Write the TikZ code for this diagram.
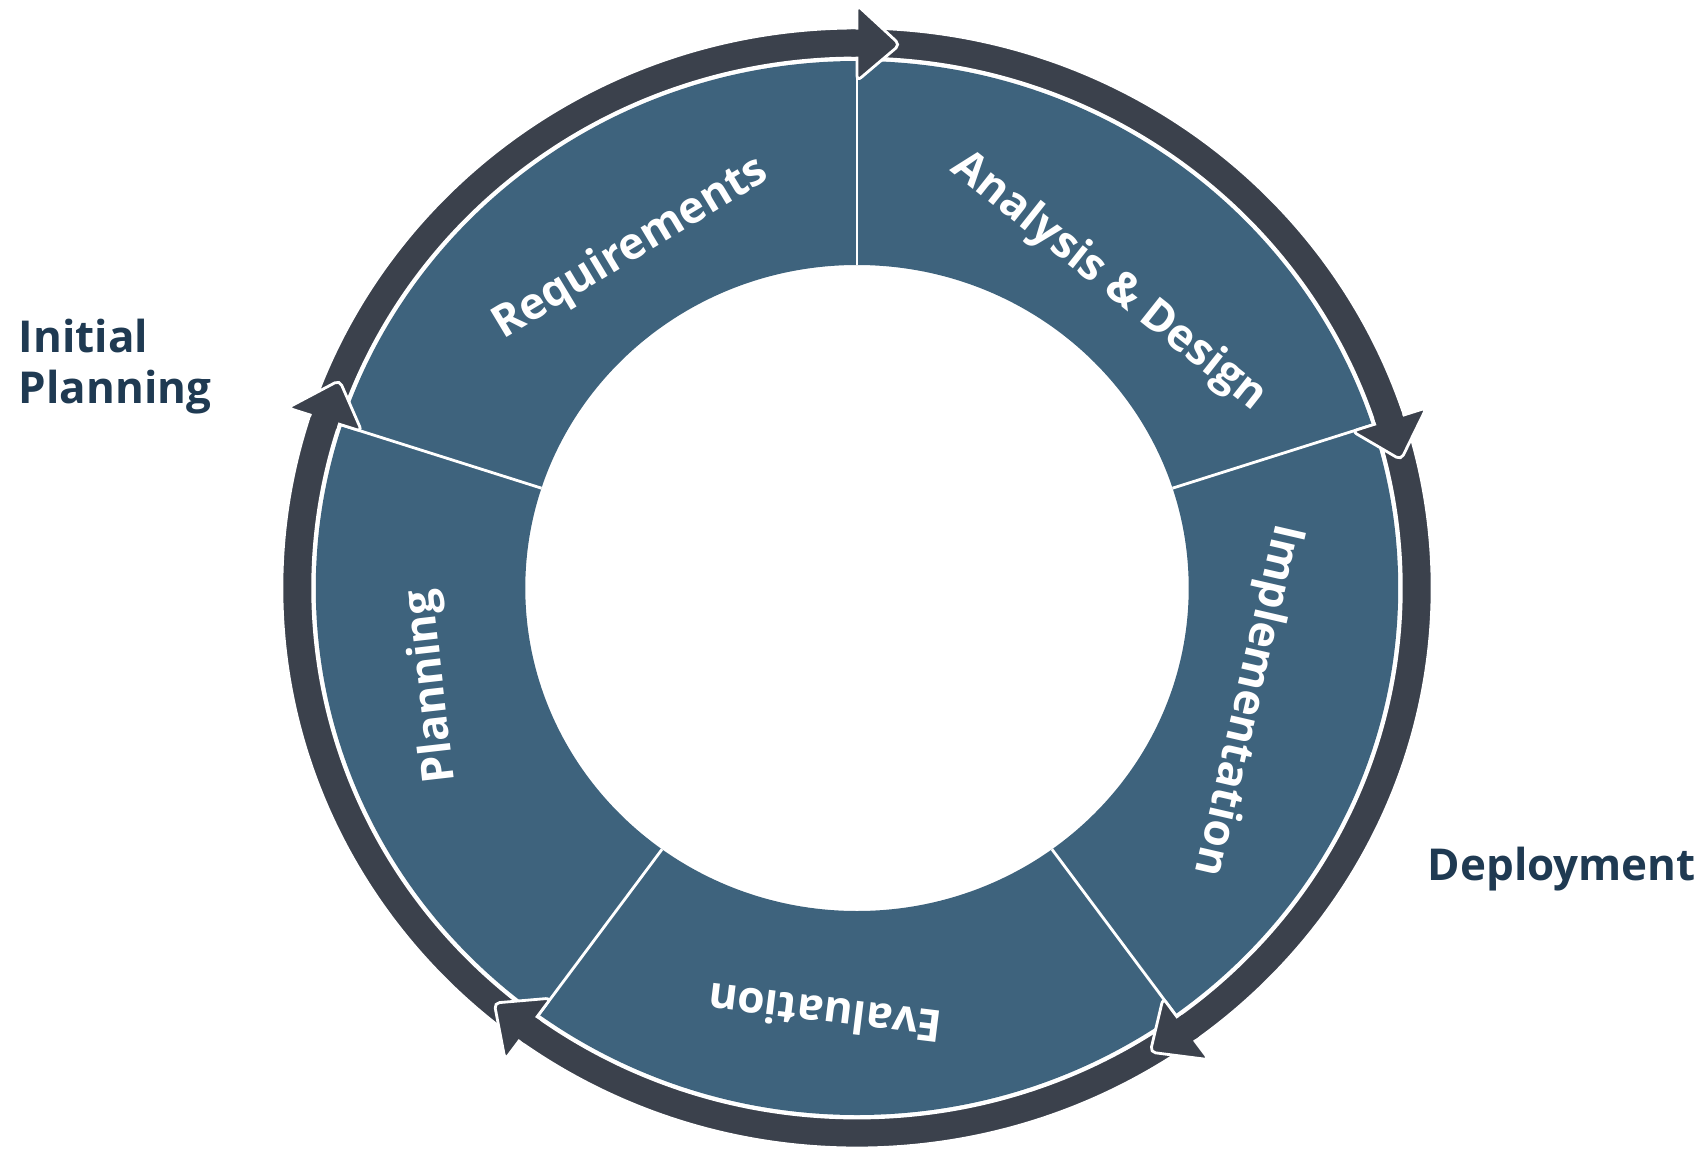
\documentclass[tikz,border=0pt]{standalone}
\usepackage{fontspec}
\setmainfont{Open Sans}
\usepackage{xcolor}
\definecolor{ringblue}{RGB}{62,99,125}
\definecolor{banddark}{RGB}{59,65,76}
\definecolor{labelblue}{RGB}{31,58,82}

\begin{document}
\begin{tikzpicture}[x=0.01cm,y=0.01cm,
ring label/.style={text=white,inner sep=0pt,font=\fontsize{12.6}{15}\selectfont\bfseries},
side label/.style={text=labelblue,inner sep=0pt,align=left,anchor=base west,font=\fontsize{12.5}{14.5}\selectfont\bfseries},
head/.style={fill=banddark,draw=white,line width=0.8pt,rounded corners=1.5pt}]

\useasboundingbox (0,0) rectangle (1705,1153);

\begin{scope}[shift={(857,565)},xscale=1.027]
% blue ring and its five parts
\fill[ringblue,even odd rule] (0,0) circle[radius=527] (0,0) circle[radius=323];
\foreach \a in {90,18,-54,-126,162}
  \draw[white,line width=0.8pt] (\a:323) -- (\a:528);
% dark band
\fill[banddark,even odd rule] (0,0) circle[radius=560] (0,0) circle[radius=530];
\draw[white,line width=0.8pt] (0,0) circle[radius=560] (0,0) circle[radius=530];
% arrow heads
\foreach \a in {90,18,-54,-126,162}{
  \draw[head] (\a:507) -- (\a:583) -- (\a-4.4:545) -- cycle;
  \fill[banddark] (\a+0.6:531.5) arc[start angle=\a+0.6,end angle=\a-0.8,radius=531.5]
    -- (\a-0.8:558.5) arc[start angle=\a-0.8,end angle=\a+0.6,radius=558.5] -- cycle;
}
\end{scope}

\node[ring label,rotate=31] (req) at (631,904) {Requirements};
\node[ring label,rotate=-38.4] (ana) at (1109,871) {Analysis \& Design};
\node[ring label,rotate=-103] (imp) at (1247,453) {Implementation};
\node[ring label,rotate=173] (eva) at (825,139) {Evaluation};
\node[ring label,rotate=96.5] (pla) at (432,467) {Planning};

\node[side label] (init) at (18,750) {Initial\\Planning};
\node[side label] (depl) at (1427,273) {Deployment};
\end{tikzpicture}
\end{document}
